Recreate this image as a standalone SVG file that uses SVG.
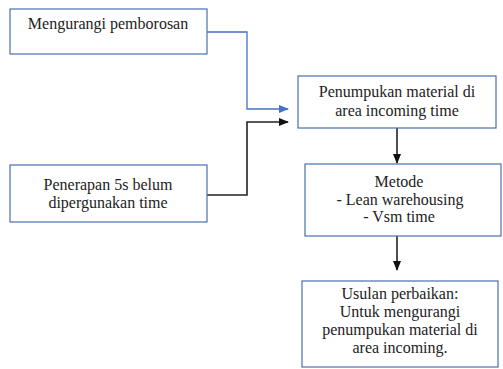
<svg xmlns="http://www.w3.org/2000/svg" width="503" height="369" viewBox="0 0 503 369">
<defs>
<style>
.box{fill:#fff;stroke:#4a6eb0;stroke-width:1.2}
.t{font-family:"Liberation Serif","Times New Roman",serif;font-size:16px;fill:#222;text-anchor:middle}
.blue{fill:none;stroke:#4472c4;stroke-width:1.3}
.blk{fill:none;stroke:#222;stroke-width:1.6}
</style>
<marker id="ab" markerWidth="10" markerHeight="8" refX="9" refY="4" orient="auto" markerUnits="userSpaceOnUse"><path d="M0,0 L10,4 L0,8 Z" fill="#4472c4"/></marker>
<marker id="ak" markerWidth="10" markerHeight="8" refX="9" refY="4" orient="auto" markerUnits="userSpaceOnUse"><path d="M0,0 L10,4 L0,8 Z" fill="#111"/></marker>
</defs>
<rect width="503" height="369" fill="#fff"/>
<g id="connectors">
<path class="blue" d="M207,32 H247 V109 H288" marker-end="url(#ab)"/>
<path class="blk" d="M207,195 H247 V122 H288" marker-end="url(#ak)"/>
<path class="blk" d="M397,128 V163" marker-end="url(#ak)"/>
<path class="blk" d="M397,236 V270" marker-end="url(#ak)"/>
</g>
<g id="n1">
<rect class="box" x="10" y="9" width="197" height="45"/>
<text class="t" x="108" y="29">Mengurangi pemborosan</text>
</g>
<g id="n2">
<rect class="box" x="298" y="76" width="198" height="52"/>
<text class="t" x="397" y="97">Penumpukan material di</text>
<text class="t" x="397" y="116">area incoming time</text>
</g>
<g id="n3">
<rect class="box" x="10" y="165" width="197" height="57"/>
<text class="t" x="108" y="190">Penerapan 5s belum</text>
<text class="t" x="108" y="208">dipergunakan time</text>
</g>
<g id="n4">
<rect class="box" x="305" y="164" width="196" height="72"/>
<text class="t" x="399" y="187">Metode</text>
<text class="t" x="400" y="205">- Lean warehousing</text>
<text class="t" x="399" y="222">- Vsm time</text>
</g>
<g id="n5">
<rect class="box" x="302" y="281" width="196" height="86"/>
<text class="t" x="400" y="299">Usulan perbaikan:</text>
<text class="t" x="400" y="317">Untuk mengurangi</text>
<text class="t" x="400" y="335">penumpukan material di</text>
<text class="t" x="400" y="353">area incoming.</text>
</g>
</svg>
